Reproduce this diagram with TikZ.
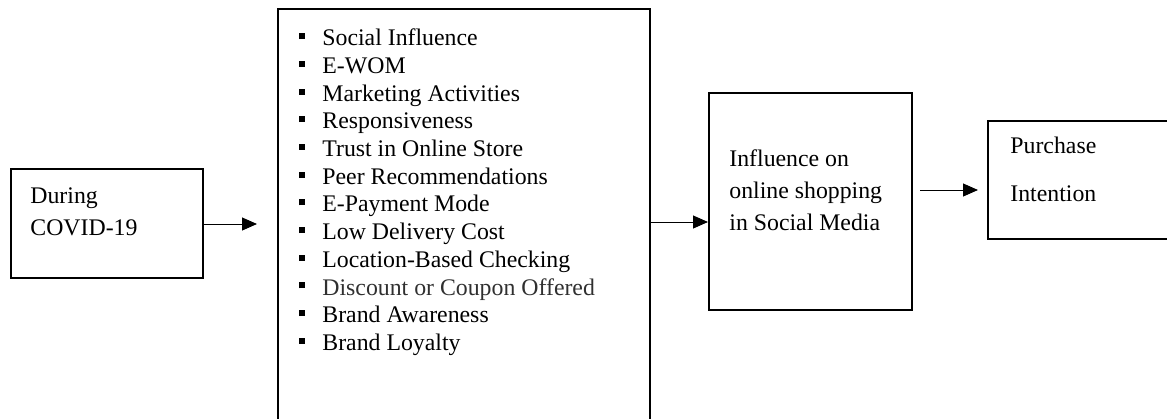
\documentclass[tikz,border=0pt]{standalone}
\usepackage{fontspec}
\setmainfont{Liberation Serif}
\usetikzlibrary{arrows.meta}
\definecolor{dgray}{RGB}{48,48,48}
\newcommand\blt{\llap{\raisebox{3.3pt}{\rule{3pt}{3pt}}\hspace{8.5pt}}}
\tikzset{
  box/.style={draw, line width=1pt, rectangle, inner sep=0pt, anchor=north west},
  txt/.style={inner sep=0pt, anchor=base west, font=\fontsize{11.9}{14}\selectfont},
  arr/.style={line width=0.5pt, -{Triangle[length=7.5pt,width=6.5pt]}}
}
\begin{document}
\begin{tikzpicture}[x=0.5pt,y=-0.5pt]
\useasboundingbox (0,0) rectangle (1167,418);
% boxes
\node[box, minimum width=96pt, minimum height=54.5pt] (lb) at (10,168) {};
\node[box, minimum width=186pt, minimum height=230pt] (mb) at (277,8) {};
\node[box, minimum width=101.5pt, minimum height=108.5pt] (mr) at (708,92) {};
\node[box, minimum width=110pt, minimum height=59pt] (rb) at (987,120) {};
% left box text
\node[txt] (l1) at (30,203) {During};
\node[txt] (l2) at (30,235) {COVID-19};
% list
\foreach \t [count=\i] in {Social Influence, E-WOM, Marketing Activities, Responsiveness,
  Trust in Online Store, Peer Recommendations, E-Payment Mode, Low Delivery Cost,
  Location-Based Checking, {\color{dgray}Discount or Coupon Offered}, Brand Awareness, Brand Loyalty}
  \node[txt] (it\i) at (322,{45.7+27.7*(\i-1)}) {\blt\t};
% middle-right text
\node[txt] (m1) at (729,166) {Influence on};
\node[txt] (m2) at (729,198) {online shopping};
\node[txt] (m3) at (729,230) {in Social Media};
% right text
\node[txt] (r1) at (1010,153) {Purchase};
\node[txt] (r2) at (1010,201) {Intention};
% connectors
\coordinate (a1) at (0,224);
\coordinate (a2) at (0,222);
\coordinate (a3) at (0,190);
\draw[arr, shorten >=10pt] (lb.east |- a1) -- (mb.west |- a1);
\draw[arr] (mb.east |- a2) -- (mr.west |- a2);
\draw[arr, shorten <=3.5pt, shorten >=4.5pt] (mr.east |- a3) -- (rb.west |- a3);
\end{tikzpicture}
\end{document}
